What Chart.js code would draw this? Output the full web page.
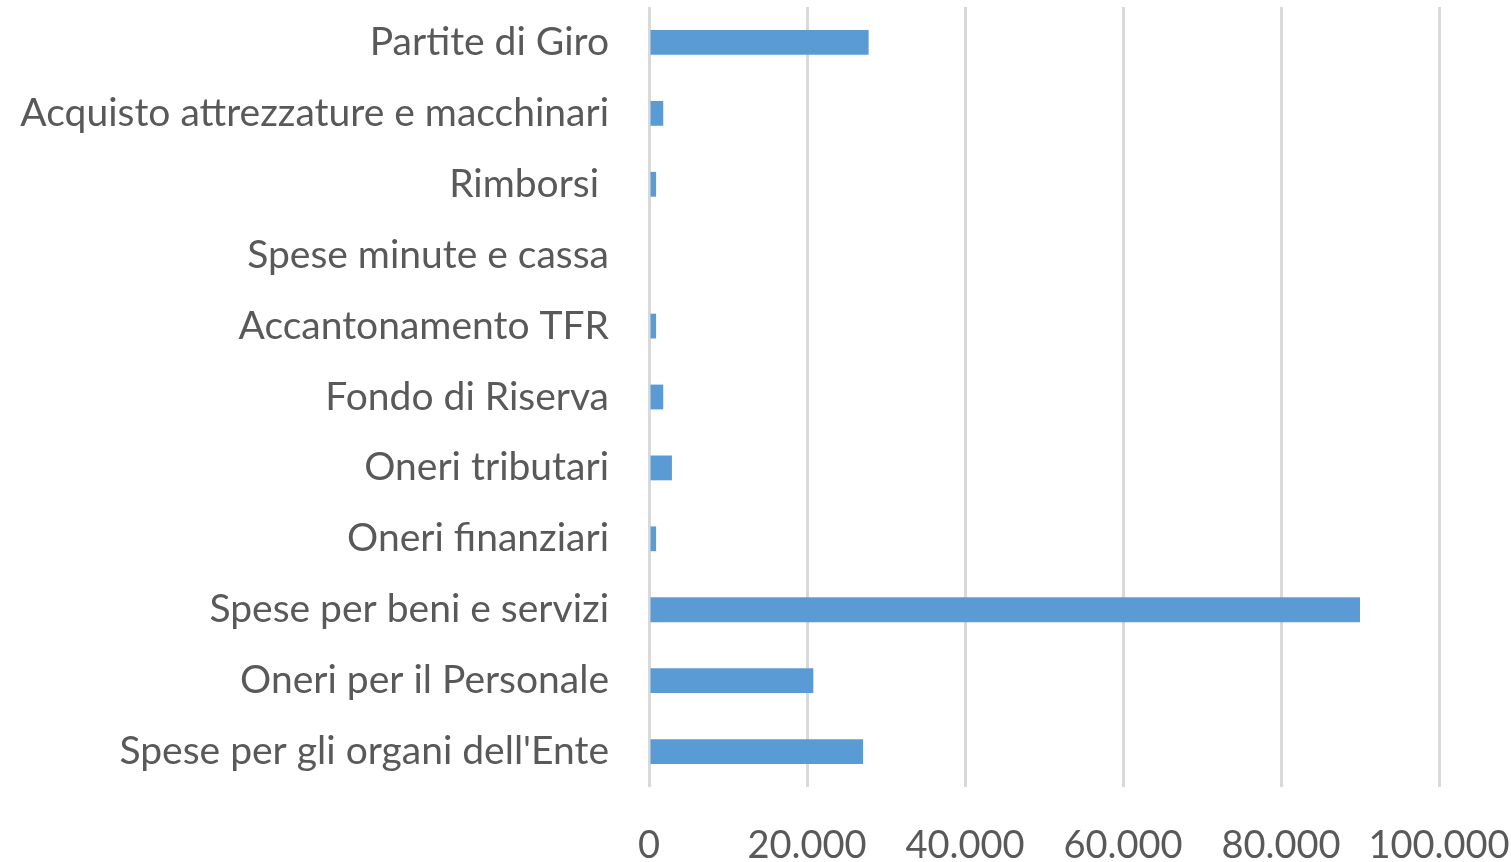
<!DOCTYPE html>
<html>
<head>
<meta charset="utf-8">
<script src="https://cdn.jsdelivr.net/npm/chart.js@4.4.0/dist/chart.umd.min.js"></script>
<style>
  html, body { margin: 0; padding: 0; background: #fff; }
  #wrap { width: 1511px; height: 862px; }
</style>
</head>
<body>
<div id="wrap"><canvas id="spese-chart"></canvas></div>
<script>
const categories = [
  'Partite di Giro',
  'Acquisto attrezzature e macchinari',
  'Rimborsi ',
  'Spese minute e cassa',
  'Accantonamento TFR',
  'Fondo di Riserva',
  'Oneri tributari',
  'Oneri finanziari',
  'Spese per beni e servizi',
  'Oneri per il Personale',
  "Spese per gli organi dell'Ente"
];
const importi = [27800, 1800, 900, 0, 900, 1800, 2900, 900, 90000, 20800, 27100];
const xTicks = [0, 20000, 40000, 60000, 80000, 100000];

(function() {
  Chart.defaults.font.family = 'Lato';
  Chart.defaults.font.size = 39;
  Chart.defaults.color = '#595959';

  const fmt = (v) => v.toLocaleString('it-IT');

  new Chart(
    document.getElementById('spese-chart'),
    {
      type: 'bar',
      data: {
        labels: categories,
        datasets: [{
          label: 'Spese',
          data: importi,
          backgroundColor: '#5b9bd5',
          borderWidth: 0,
          categoryPercentage: 1,
          barPercentage: 0.35
        }]
      },
      options: {
        indexAxis: 'y',
        responsive: true,
        maintainAspectRatio: false,
        animation: false,
        layout: {
          padding: { top: 7, right: 72, bottom: 0, left: 0 }
        },
        plugins: {
          legend: { display: false },
          tooltip: { enabled: false }
        },
        scales: {
          x: {
            min: 0,
            max: 100000,
            afterBuildTicks: (scale) => {
              scale.ticks = xTicks.map((v) => ({ value: v }));
            },
            afterFit: (scale) => {
              scale.height = 75;
              scale.paddingLeft = 0;
              scale.paddingRight = 0;
            },
            ticks: {
              callback: (v) => fmt(v),
              font: { size: 38 },
              padding: 36,
              maxRotation: 0
            },
            grid: {
              color: '#d9d9d9',
              lineWidth: 3,
              drawTicks: false
            },
            border: { display: false }
          },
          y: {
            afterFit: (scale) => {
              scale.width = 649;
              scale.paddingTop = 0;
              scale.paddingBottom = 0;
            },
            ticks: { padding: 40 },
            grid: { display: false, drawTicks: false },
            border: { display: false }
          }
        }
      }
    }
  );
})();
</script>
</body>
</html>
